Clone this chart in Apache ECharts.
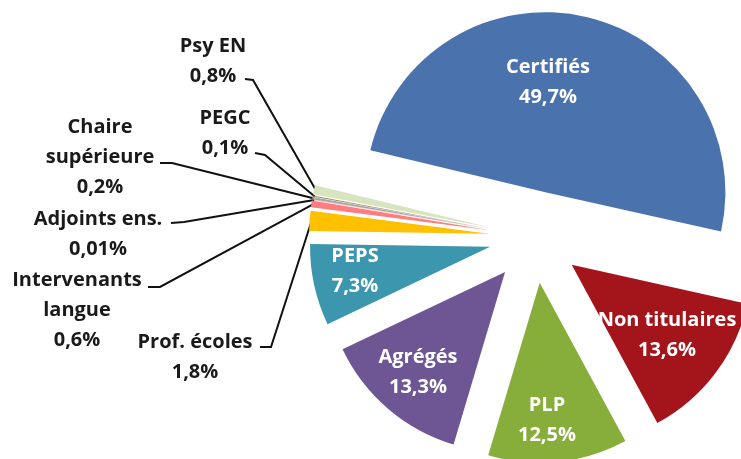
<!DOCTYPE html>
<html>
<head>
<meta charset="utf-8">
<script src="https://cdn.jsdelivr.net/npm/echarts@6/dist/echarts.min.js"></script>
<style>
  html, body { margin: 0; padding: 0; background: #fff; }
  #chart { width: 741px; height: 459px; }
</style>
</head>
<body>
<div id="chart"></div>
<script>
  // parts of staff, in %
  const names = ['Certifiés', 'Non titulaires', 'PLP', 'Agrégés', 'PEPS', 'Prof. écoles',
    'Intervenants\nlangue', 'Adjoints ens.', 'Chaire\nsupérieure', 'PEGC', 'Psy EN']
  const shares = [49.7, 13.6, 12.5, 13.3, 7.3, 1.8, 0.6, 0.01, 0.2, 0.1, 0.8]
  const colors = ['#4a72ac', '#a3141b', '#87ad3b', '#6e5594', '#3c96ae', '#ffc000',
    '#ff7c80', '#c0504d', '#a6a6a6', '#948a54', '#d7e4bd']

  // layout
  const cx = 535, cy = 237, R = 180, off = 46, startAngle = 166.5
  const labelPos = [
    [548, 82], [667, 335], [547, 420], [418, 372], [355, 271],
    [195, 357], [77, 310], [98, 234], [100, 157], [225, 133], [213, 61]
  ]
  // bend point and end point of leader lines
  const leader = {
    5: [[271, 347], [260, 347]],
    6: [[160, 287], [148, 287]],
    7: [[184, 222], [171, 223]],
    8: [[172, 163], [160, 163]],
    9: [[265, 155], [255, 153]],
    10: [[253, 80], [245, 79]]
  }

  const total = shares.reduce((a, b) => a + b, 0)
  function tip(i) {
    let acc = 0
    for (let k = 0; k < i; k++) acc += shares[k]
    const mid = (startAngle - (acc + shares[i] / 2) / total * 360) * Math.PI / 180
    const d = R + off - 2
    return [cx + d * Math.cos(mid), cy - d * Math.sin(mid)]
  }
  const fmt = v => String(v).replace('.', ',') + '%'

  const chart = echarts.init(document.getElementById('chart'))
  chart.setOption({
    animation: false,
    series: [{
      // exploded slices
      type: 'pie',
      center: [cx, cy],
      radius: R,
      startAngle: startAngle,
      clockwise: true,
      selectedMode: 'multiple',
      selectedOffset: off,
      emphasis: { disabled: true },
      label: { show: false },
      labelLine: { show: false },
      data: names.map((n, i) => ({
        name: n,
        value: shares[i],
        selected: true,
        itemStyle: { color: colors[i] }
      }))
    }, {
      // labels only
      type: 'pie',
      silent: true,
      center: [cx, cy],
      radius: R,
      startAngle: startAngle,
      clockwise: true,
      avoidLabelOverlap: false,
      emphasis: { disabled: true },
      itemStyle: { color: 'rgba(0,0,0,0)' },
      label: {
        formatter: p => p.name + '\n' + fmt(p.value),
        fontFamily: 'Open Sans',
        fontWeight: 'bold',
        fontSize: 20,
        lineHeight: 30
      },
      labelLine: { lineStyle: { color: '#111', width: 2 } },
      labelLayout: function (p) {
        const i = p.dataIndex
        const out = { x: labelPos[i][0], y: labelPos[i][1], align: 'center', verticalAlign: 'middle' }
        if (leader[i]) out.labelLinePoints = [tip(i), leader[i][0], leader[i][1]]
        return out
      },
      data: names.map((n, i) => ({
        name: n,
        value: shares[i],
        label: i < 5
          ? { position: 'inside', color: '#fff' }
          : { position: 'outside', color: '#1a1a1a' },
        labelLine: { show: i >= 5 }
      }))
    }]
  })
</script>
</body>
</html>
